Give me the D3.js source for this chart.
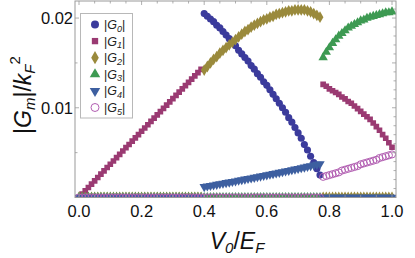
<!DOCTYPE html>
<html><head><meta charset="utf-8">
<script src="https://cdn.jsdelivr.net/npm/d3@7/dist/d3.min.js"></script>
<style>body{margin:0;background:#fff}svg{display:block;font-family:"Liberation Sans",Arial,sans-serif}</style>
</head><body><svg id="c" width="415" height="258"></svg>
<script>
const xs = d3.range(101).map(i => +(i / 100).toFixed(2));
const seriesNames = ["G0", "G1", "G2", "G3", "G4", "G5"];
const xTicks = [0.0, 0.2, 0.4, 0.6, 0.8, 1.0];
const xTickLabels = ["0.0", "0.2", "0.4", "0.6", "0.8", "1.0"];
const yTicks = [0.01, 0.02];
const yTickLabels = ["0.01", "0.02"];

const g0 = [0,0,0,0,0,0,0,0,0,0, 0,0,0,0,0,0,0,0,0,0, 0,0,0,0,0,0,0,0,0,0, 0,0,0,0,0,0,0,0,0,0,
  0.0205,0.0202,0.0199,0.0196,0.0192,0.0189,0.0185,0.0181,0.0177,0.0173,
  0.0169,0.0164,0.0160,0.0156,0.0152,0.0147,0.0143,0.0138,0.0134,0.0129,
  0.0125,0.0120,0.0115,0.0110,0.0105,0.0100,0.0095,0.0089,0.0084,0.0078,
  0.0072,0.0066,0.0059,0.0053,0.0046,0.0039,0.0032,0.0025,
  0,0,0,0,0,0,0,0,0,0,0,0,0,0,0,0,0,0,0,0,0,0,0];
const g1 = [0,0.00037,0.00074,0.00111,0.00149,0.00186,0.00223,0.00260,0.00297,0.00334,
  0.00371,0.00407,0.00444,0.00481,0.00518,0.00555,0.00591,0.00628,0.00665,0.00701,
  0.00738,0.00775,0.00811,0.00848,0.00884,0.00921,0.00957,0.00993,0.01030,0.01066,
  0.01102,0.01139,0.01175,0.01211,0.01247,0.01283,0.01319,0.01355,0.01392,0.01428,
  0,0,0,0,0,0,0,0,0,0, 0,0,0,0,0,0,0,0,0,0, 0,0,0,0,0,0,0,0,0,0, 0,0,0,0,0,0,0,0,
  0.0126,0.0124,0.0121,0.0119,0.0117,0.0115,0.0112,0.0110,0.0107,0.0105,
  0.0102,0.0099,0.0096,0.0093,0.0090,0.0087,0.0083,0.0079,0.0075,0.0070,
  0.0066,0.0061,0.0056];
const g2 = [0,0,0,0,0,0,0,0,0,0, 0,0,0,0,0,0,0,0,0,0, 0,0,0,0,0,0,0,0,0,0, 0,0,0,0,0,0,0,0,0,0,
  0.0142,0.0146,0.0150,0.0154,0.0157,0.0161,0.0164,0.0167,0.0170,0.0173,
  0.0176,0.0179,0.0182,0.0185,0.0187,0.0190,0.0192,0.0194,0.0196,0.0198,
  0.0199,0.0201,0.0202,0.0204,0.0205,0.0206,0.0207,0.0208,0.0208,0.0209,
  0.0209,0.0209,0.0209,0.0208,0.0207,0.0205,0.0203,0.0201,
  0,0,0,0,0,0,0,0,0,0,0,0,0,0,0,0,0,0,0,0,0,0,0];
const g3 = [0,0,0,0,0,0,0,0,0,0, 0,0,0,0,0,0,0,0,0,0, 0,0,0,0,0,0,0,0,0,0, 0,0,0,0,0,0,0,0,0,0,
  0,0,0,0,0,0,0,0,0,0, 0,0,0,0,0,0,0,0,0,0, 0,0,0,0,0,0,0,0,0,0, 0,0,0,0,0,0,0,0,
  0.0156,0.0162,0.0167,0.0172,0.0176,0.0180,0.0183,0.0186,0.0189,0.0191,
  0.0193,0.0195,0.0197,0.0198,0.0200,0.0201,0.0202,0.0203,0.0204,0.0205,
  0.0206,0.0206,0.0207];
const g4 = [0,0,0,0,0,0,0,0,0,0, 0,0,0,0,0,0,0,0,0,0, 0,0,0,0,0,0,0,0,0,0, 0,0,0,0,0,0,0,0,0,0,
  0.00120,0.00126,0.00132,0.00138,0.00145,0.00151,0.00157,0.00164,0.00170,0.00177,
  0.00183,0.00190,0.00196,0.00203,0.00210,0.00216,0.00223,0.00230,0.00237,0.00244,
  0.00251,0.00258,0.00265,0.00272,0.00279,0.00286,0.00293,0.00300,0.00308,0.00315,
  0.00322,0.00330,0.00337,0.00345,0.00352,0.00360,0.00368,0.00375,
  0,0,0,0,0,0,0,0,0,0,0,0,0,0,0,0,0,0,0,0,0,0,0];
const g5 = [0,0,0,0,0,0,0,0,0,0, 0,0,0,0,0,0,0,0,0,0, 0,0,0,0,0,0,0,0,0,0, 0,0,0,0,0,0,0,0,0,0,
  0,0,0,0,0,0,0,0,0,0, 0,0,0,0,0,0,0,0,0,0, 0,0,0,0,0,0,0,0,0,0, 0,0,0,0,0,0,0,0,
  0.0023,0.0024,0.0025,0.0026,0.0027,0.0028,0.0030,0.0031,0.0032,0.0033,
  0.0034,0.0035,0.0037,0.0038,0.0039,0.0040,0.0041,0.0042,0.0044,0.0045,
  0.0046,0.0047,0.0048];

const seriesValues = [g0, g1, g2, g3, g4, g5];
const colors = ["#3b3b9c", "#9a3a72", "#9a8a3c", "#3d9a52", "#3d5fa0", "#b25fb2"];
const shapes = [d3.symbolCircle, d3.symbolSquare, d3.symbolDiamond, d3.symbolTriangle, d3.symbolTriangle, d3.symbolCircle];
const sizes = [40, 32, 40, 38, 38, 40];
const rot = [0, 0, 0, 0, 180, 0];
const hollow = [false, false, false, false, false, true];

const svg = d3.select("#c");
const L = 75, R = 396, T = 1, B = 197.5;
const x = d3.scaleLinear().domain([0, 1]).range([79, 392]);
const y = d3.scaleLinear().domain([0, 0.0219]).range([197.5, 1]);

svg.append("defs").append("clipPath").attr("id", "clip")
  .append("rect").attr("x", L).attr("y", T).attr("width", R - L).attr("height", B - T);

const plot = svg.append("g").attr("clip-path", "url(#clip)");
seriesNames.forEach((name, s) => {
  const sym = d3.symbol().type(shapes[s]).size(sizes[s]);
  plot.append("g").selectAll("path").data(xs.map((v, i) => [v, seriesValues[s][i]]))
    .join("path")
    .attr("d", sym)
    .attr("transform", d => `translate(${x(d[0])},${y(d[1])}) rotate(${rot[s]})`)
    .attr("fill", hollow[s] ? "none" : colors[s])
    .attr("stroke", hollow[s] ? colors[s] : "none")
    .attr("stroke-width", 1);
});

// frame
const frameColor = "#9a9a9a";
svg.append("rect").attr("x", L).attr("y", T).attr("width", R - L).attr("height", B - T)
  .attr("fill", "none").attr("stroke", frameColor).attr("stroke-width", 1);

const tk = svg.append("g").attr("stroke", frameColor).attr("stroke-width", 0.8);
d3.range(0, 1.0001, 0.05).forEach(v => {
  const major = Math.abs(v * 5 - Math.round(v * 5)) < 1e-6;
  const len = major ? 4 : 2.5;
  tk.append("line").attr("x1", x(v)).attr("x2", x(v)).attr("y1", B).attr("y2", B - len);
  tk.append("line").attr("x1", x(v)).attr("x2", x(v)).attr("y1", T).attr("y2", T + len);
});
[0.005, 0.01, 0.015, 0.02].forEach(v => {
  const major = yTicks.includes(v);
  tk.append("line").attr("x1", L).attr("x2", L + (major ? 4 : 2.5)).attr("y1", y(v)).attr("y2", y(v));
});
d3.range(0.001, 0.0215, 0.001).forEach(v => {
  const major = Math.abs(v * 200 - Math.round(v * 200)) < 1e-6;
  tk.append("line").attr("x1", R).attr("x2", R - (major ? 4 : 2.5)).attr("y1", y(v)).attr("y2", y(v));
});

svg.append("g").selectAll("text").data(xTicks).join("text")
  .attr("x", d => x(d)).attr("y", 217).attr("text-anchor", "middle")
  .attr("font-size", 16.5).attr("fill", "#111").text((d, i) => xTickLabels[i]);
svg.append("g").selectAll("text").data(yTicks).join("text")
  .attr("x", 73).attr("y", d => y(d) + 6).attr("text-anchor", "end")
  .attr("font-size", 16.5).attr("fill", "#111").text((d, i) => yTickLabels[i]);

const xl = svg.append("text").attr("x", 237).attr("y", 249).attr("text-anchor", "middle")
  .attr("font-size", 23).attr("fill", "#111");
xl.append("tspan").attr("font-style", "italic").text("V");
xl.append("tspan").attr("font-style", "italic").attr("font-size", 15).attr("dy", 4).text("0");
xl.append("tspan").attr("dy", -4).text("/");
xl.append("tspan").attr("font-style", "italic").text("E");
xl.append("tspan").attr("font-style", "italic").attr("font-size", 15).attr("dy", 4).text("F");

const yl = svg.append("text").attr("transform", "translate(31,95) rotate(-90)").attr("text-anchor", "middle")
  .attr("font-size", 23).attr("fill", "#111");
yl.append("tspan").text("|");
yl.append("tspan").attr("font-style", "italic").text("G");
yl.append("tspan").attr("font-style", "italic").attr("font-size", 15).attr("dy", 4).text("m");
yl.append("tspan").attr("dy", -4).text("|/");
yl.append("tspan").attr("font-style", "italic").text("k");
yl.append("tspan").attr("font-style", "italic").attr("font-size", 15).attr("dy", 4).text("F");
yl.append("tspan").attr("font-size", 15).attr("dy", -15).text("2");

const lg = svg.append("g");
lg.append("rect").attr("x", 80.5).attr("y", 13.5).attr("width", 52).attr("height", 104.5)
  .attr("fill", "#fff").attr("stroke", "#b8b8b8").attr("stroke-width", 1);
seriesNames.forEach((name, s) => {
  const cy = 24.5 + s * 16.6;
  const sym = d3.symbol().type(shapes[s]).size(sizes[s] * 1.25);
  lg.append("path").attr("d", sym)
    .attr("transform", `translate(95,${cy}) rotate(${rot[s]})`)
    .attr("fill", hollow[s] ? "none" : colors[s])
    .attr("stroke", hollow[s] ? colors[s] : "none");
  const t = lg.append("text").attr("x", 104).attr("y", cy + 4.5).attr("font-size", 12.5).attr("fill", "#222");
  t.append("tspan").text("|");
  t.append("tspan").attr("font-style", "italic").text("G");
  t.append("tspan").attr("font-style", "italic").attr("font-size", 9).attr("dy", 2.5).text(name.slice(1));
  t.append("tspan").attr("dy", -2.5).text("|");
});
</script></body></html>
